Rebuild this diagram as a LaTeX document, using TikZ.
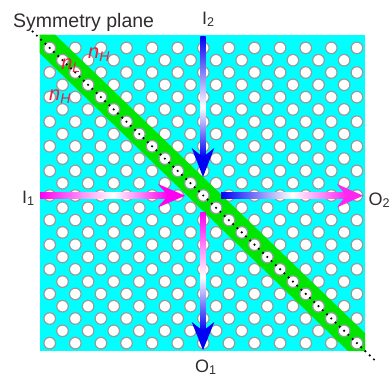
\documentclass[tikz,border=0pt]{standalone}
\usepackage{fontspec}
\setmainfont{Liberation Sans}
\usepackage{xcolor}
\usepackage{tikz}
\usetikzlibrary{calc}
\definecolor{PhcCyan}{RGB}{0,255,255}
\definecolor{PhcGreen}{RGB}{0,230,0}
\definecolor{PhcRing}{RGB}{150,155,155}
\definecolor{PhcMagenta}{RGB}{255,0,240}
\definecolor{PhcBlue}{RGB}{0,0,245}
\definecolor{PhcRed}{RGB}{235,30,60}
\definecolor{PhcText}{RGB}{50,45,45}
\tikzset{
  hole/.style={fill=white,draw=PhcRing,line width=1.2pt},
  portlabel/.style={text=PhcText,font=\fontsize{18}{18}\selectfont,inner sep=0pt},
  indexlabel/.style={text=PhcRed,font=\fontsize{20}{20}\selectfont\itshape,inner sep=0pt},
}
\begin{document}
\begin{tikzpicture}[x=1pt,y=-1pt]
        \useasboundingbox (0,0) rectangle (390,376);
        \fill[PhcCyan] (39.5,34.5) rectangle (365,351);
        \foreach \i in {-12,...,12} {
          \foreach \j in {-12,...,12} {
            \ifodd\numexpr\i+\j\relax\else
              \draw[hole] ({203.3+12.8*\i},{195.5+12.3*\j}) circle (5.8);
            \fi
          }
        }
        % guide band along the symmetry plane
        \fill[PhcGreen] (39.5,34.5) -- (55,34.5) -- (365,333) -- (365,351) -- (348,351) -- (39.5,53) -- cycle;
        \foreach \i in {-12,...,12} {
          \draw[hole] ({203.3+12.8*\i},{195.5+12.3*\i}) circle (5.8);
        }
        \coordinate (planeA) at (32.6,31.5);
        \coordinate (planeB) at (374,359.5);
        \draw[line width=2.4pt,line cap=round,dash pattern=on 0pt off 5.917pt] (planeA) -- (planeB);
        % input and output waveguides
        \coordinate (inA) at (40,195.7);
        \coordinate (inAw) at (113,195.7);
        \coordinate (inAn) at (168,195.7);
        \coordinate (inB) at (203,36);
        \coordinate (inBw) at (203,107);
        \coordinate (inBn) at (203,157);
        \coordinate (outA) at (203,212);
        \coordinate (outAw) at (203,277);
        \coordinate (outAn) at (203,331);
        \coordinate (outB) at (221,195.7);
        \coordinate (outBw) at (292,195.7);
        \coordinate (outBn) at (346,195.7);
        \shade[left color=PhcMagenta,middle color=PhcMagenta!80!white,right color=white] ($(inA)+(0,-3)$) rectangle ($(inAw)+(0,3)$);
        \shade[left color=white,middle color=PhcMagenta!80!white,right color=PhcMagenta] ($(inAw)+(0,-3)$) rectangle ($(inAn)+(0,3)$);
        \shade[top color=PhcBlue,middle color=PhcBlue!75!white,bottom color=white] ($(inB)+(-2.7,0)$) rectangle ($(inBw)+(2.7,0)$);
        \shade[top color=white,middle color=PhcBlue!75!white,bottom color=PhcBlue] ($(inBw)+(-2.7,0)$) rectangle ($(inBn)+(2.7,0)$);
        \shade[top color=PhcMagenta,middle color=PhcMagenta!70!white,bottom color=white] ($(outA)+(-2.7,0)$) rectangle ($(outAw)+(2.7,0)$);
        \shade[top color=white,middle color=PhcBlue!55!white,bottom color=PhcBlue] ($(outAw)+(-2.7,0)$) rectangle ($(outAn)+(2.7,0)$);
        \shade[left color=PhcBlue,middle color=PhcBlue!65!white,right color=white] ($(outB)+(0,-3)$) rectangle ($(outBw)+(0,3)$);
        \shade[left color=white,middle color=PhcMagenta!45!white,right color=PhcMagenta!85!white] ($(outBw)+(0,-3)$) rectangle ($(outBn)+(0,3)$);
        \fill[PhcMagenta] (185,195.7) -- (158,184) -- (inAn) -- (158,207.4) -- cycle;
        \fill[PhcBlue] (203,177) -- (191.7,148) -- (inBn) -- (214.3,148) -- cycle;
        \fill[PhcBlue] (203,350) -- (191.7,322) -- (outAn) -- (214.3,322) -- cycle;
        \fill[PhcMagenta!85!white] (363,195.7) -- (337,184) -- (outBn) -- (337,207.4) -- cycle;
        % labels
        \node[portlabel,font=\fontsize{19.5}{19.5}\selectfont,anchor=base west] (planeLabel) at (13,27) {Symmetry plane};
        \node[portlabel,anchor=base west] (inALabel) at (22,203) {I\textsubscript{1}};
        \node[portlabel,anchor=base west] (inBLabel) at (202,24) {I\textsubscript{2}};
        \node[portlabel,anchor=base west] (outALabel) at (195,372) {O\textsubscript{1}};
        \node[portlabel,anchor=base west] (outBLabel) at (368.5,205) {O\textsubscript{2}};
        \node[indexlabel] (highA) at (99,55) {n\textsubscript{H}};
        \node[indexlabel] (lowA) at (71,66) {n\textsubscript{L}};
        \node[indexlabel] (highB) at (60,97) {n\textsubscript{H}};
      \end{tikzpicture}
\end{document}
